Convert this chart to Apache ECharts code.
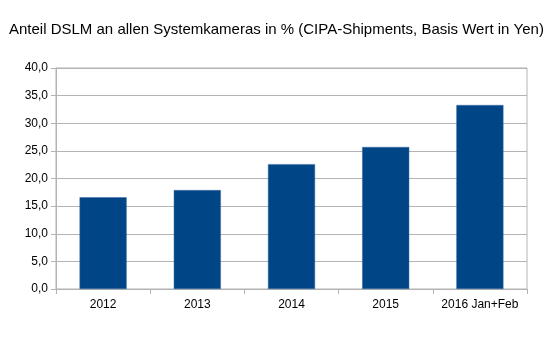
<!DOCTYPE html>
<html><head><meta charset="utf-8">
<script src="https://cdn.jsdelivr.net/npm/echarts@6/dist/echarts.min.js"></script>
<style>html,body{margin:0;padding:0;background:#fff}#c{width:551px;height:338px}</style>
</head><body><div id="c"></div>
<script>
const categories = ['2012', '2013', '2014', '2015', '2016 Jan+Feb'];
const shares = [16.6, 17.9, 22.6, 25.7, 33.3];
const titleText = 'Anteil DSLM an allen Systemkameras in % (CIPA-Shipments, Basis Wert in Yen)';

const chart = echarts.init(document.getElementById('c'), null, {renderer: 'canvas'});
chart.setOption({
  animation: false,
  title: {
    text: titleText, left: 4, top: 17,
    textStyle: {fontFamily: 'Liberation Sans', fontSize: 15, fontWeight: 'normal', color: '#000'}
  },
  grid: {left: 56, right: 24, top: 68, bottom: 49, containLabel: false, show: true, borderColor: '#b3b3b3', borderWidth: 1},
  xAxis: {
    type: 'category', data: categories,
    axisLine: {lineStyle: {color: '#b3b3b3'}},
    axisTick: {show: true, length: 5, lineStyle: {color: '#b3b3b3'}},
    axisLabel: {fontFamily: 'Liberation Sans', fontSize: 12, color: '#000', margin: 10, interval: 0}
  },
  yAxis: {
    type: 'value', min: 0, max: 40, interval: 5,
    axisLine: {show: true, lineStyle: {color: '#b3b3b3'}},
    axisTick: {show: true, length: 5, lineStyle: {color: '#b3b3b3'}},
    splitLine: {lineStyle: {color: '#b3b3b3'}},
    axisLabel: {fontFamily: 'Liberation Sans', fontSize: 12, color: '#000', margin: 8,
      formatter: v => v.toFixed(1).replace('.', ',')}
  },
  series: [{
    type: 'bar', data: shares, barCategoryGap: '50%',
    itemStyle: {color: '#004586', borderColor: '#3a6ea5', borderWidth: 0.5}
  }]
});
</script></body></html>
